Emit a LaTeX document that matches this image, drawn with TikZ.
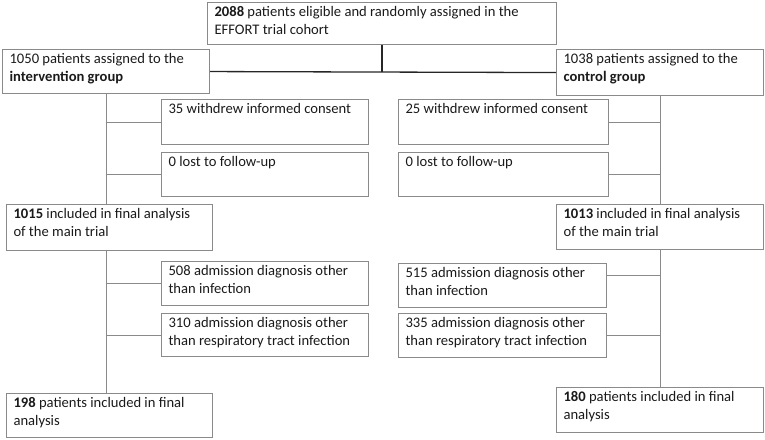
\documentclass[tikz,border=0pt]{standalone}
\usepackage{fontspec}
\setmainfont{Carlito}
\usetikzlibrary{calc}
\definecolor{boxline}{HTML}{8A8A8A}
\definecolor{txt}{HTML}{1A1A1A}
\tikzset{
  box/.style={draw=boxline, line width=1.1pt, anchor=north west, inner xsep=7pt, inner ysep=4pt, text=txt, font=\fontsize{14.6}{18}\selectfont},
  link/.style={draw=boxline, line width=1.1pt},
  mainlink/.style={draw=black!85, line width=1.6pt}
}
\newcommand{\mybox}[6]{%
  \node[box] (#1) at (#2,#3) {\parbox[c][\dimexpr #5pt-8pt\relax][t]{\dimexpr #4pt-14pt\relax}{\raggedright #6}};}
\begin{document}
\begin{tikzpicture}[x=1pt,y=-1pt]
\useasboundingbox (0,0) rectangle (765,439);
\mybox{top}{207}{2}{349}{42}{\textbf{2088} patients eligible and randomly assigned in the\\EFFORT trial cohort}
\mybox{interv}{2}{49}{207}{44}{1050 patients assigned to the\\\textbf{intervention group}}
\mybox{ctrl}{556}{49}{207}{46}{1038 patients assigned to the\\\textbf{control group}}
\mybox{wL}{161}{99}{207}{45}{35 withdrew informed consent}
\mybox{lL}{161}{152}{207}{44}{0 lost to follow-up}
\mybox{wR}{398}{99}{210}{45}{25 withdrew informed consent}
\mybox{lR}{398}{152}{210}{44}{0 lost to follow-up}
\mybox{aL}{6}{204}{206}{46}{\textbf{1015} included in final analysis\\of the main trial}
\mybox{aR}{556}{204}{207}{45}{\textbf{1013} included in final analysis\\of the main trial}
\mybox{dL}{161}{261}{207}{44}{508 admission diagnosis other\\than infection}
\mybox{eL}{161}{313}{207}{43}{310 admission diagnosis other\\than respiratory tract infection}
\mybox{dR}{398}{263}{208}{44}{515 admission diagnosis other\\than infection}
\mybox{eR}{398}{313}{208}{44}{335 admission diagnosis other\\than respiratory tract infection}
\mybox{fL}{6}{393}{206}{44}{\textbf{198} patients included in final\\analysis}
\mybox{fR}{556}{387}{207}{45}{\textbf{180} patients included in final\\analysis}
% main split
\draw[mainlink] (top.south) -- (top.south |- interv.east);
\draw[mainlink, line width=1.3pt] (interv.east) -- (ctrl.west);
% left trunk
\draw[link] (interv.south) -- (interv.south |- aL.north);
\draw[link] (interv.south |- aL.south) -- (interv.south |- fL.north);
\draw[link] (interv.south |- wL.west) -- (wL.west);
\draw[link] (interv.south |- lL.west) -- (lL.west);
\draw[link] (interv.south |- dL.west) -- (dL.west);
\draw[link] (interv.south |- eL.west) -- (eL.west);
% right trunk
\coordinate (dRc) at ($(dR.north east)!0.27!(dR.south east)$);
\draw[link] (ctrl.south) -- (ctrl.south |- aR.north);
\draw[link] (ctrl.south |- aR.south) -- (ctrl.south |- fR.north);
\draw[link] (ctrl.south |- wR.east) -- (wR.east);
\draw[link] (ctrl.south |- lR.east) -- (lR.east);
\draw[link] (ctrl.south |- dRc) -- (dRc);
\draw[link] (ctrl.south |- eR.east) -- (eR.east);
\end{tikzpicture}
\end{document}
